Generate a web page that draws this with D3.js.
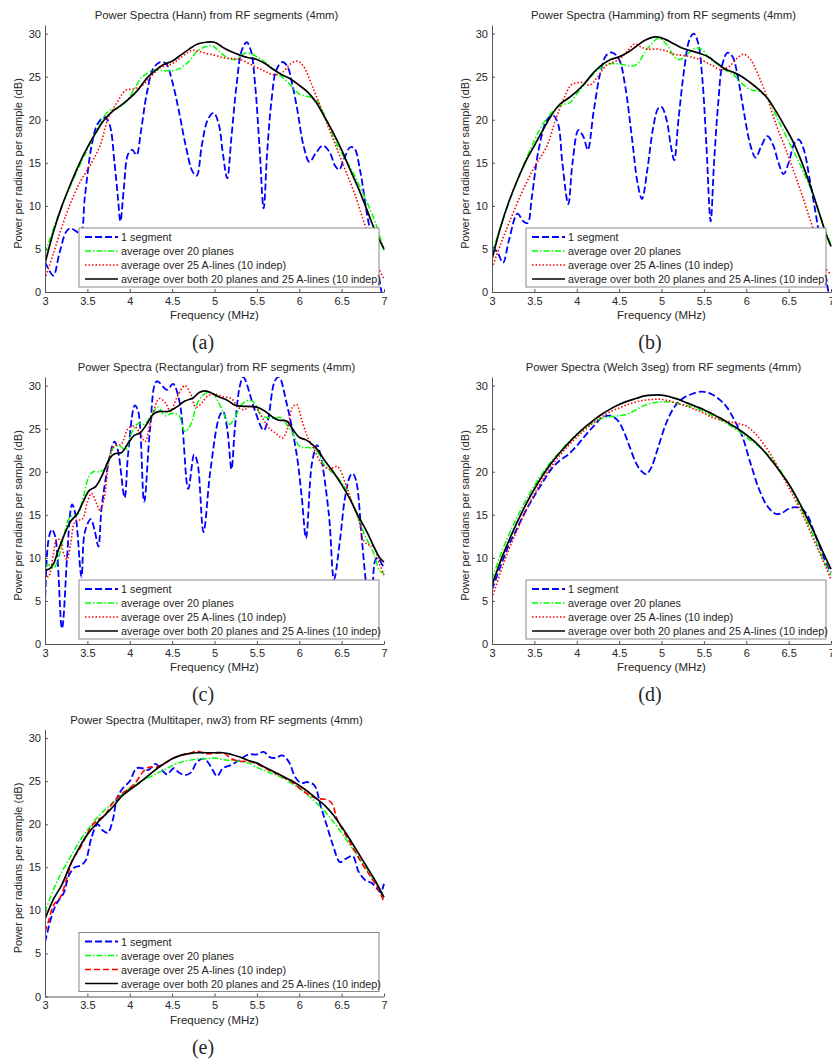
<!DOCTYPE html>
<html>
<head>
<meta charset="utf-8">
<script src="https://cdn.jsdelivr.net/npm/d3@7"></script>
<style>
  body { margin: 0; background: #fff; }
  text { font-family: "Liberation Sans", Arial, sans-serif; fill: #262626; }
</style>
</head>
<body>
<script>
const canvasWidth = 832,
  canvasHeight = 1059;

const freqTicks = [3, 3.5, 4, 4.5, 5, 5.5, 6, 6.5, 7];
const powerTicks = [0, 5, 10, 15, 20, 25, 30];
const seriesNames = [
  "1 segment",
  "average over 20 planes",
  "average over 25 A-lines (10 indep)",
  "average over both 20 planes and 25 A-lines (10 indep)"
];

// (a) Hann
const hannSeg = [[3,3.5],[3.05,2.5],[3.1,1.9],[3.17,4.5],[3.25,7],[3.3,7.4],[3.36,7.1],[3.42,6.8],[3.47,11],[3.55,17],[3.62,19.5],[3.7,20.3],[3.76,19.5],[3.82,15],[3.86,11],[3.89,8.2],[3.93,12],[3.98,16],[4.03,16.5],[4.08,15.9],[4.13,18.5],[4.2,23],[4.28,26],[4.36,26.7],[4.43,26.5],[4.5,24.5],[4.58,21],[4.66,17],[4.74,14],[4.79,13.5],[4.85,17],[4.92,20],[4.99,20.8],[5.05,19.5],[5.1,16],[5.15,13.2],[5.2,18],[5.26,24],[5.32,28],[5.38,29],[5.43,28],[5.48,24],[5.53,17],[5.58,9.7],[5.62,16],[5.67,22],[5.73,25.8],[5.8,26.7],[5.86,26.2],[5.92,24],[5.98,21],[6.05,17],[6.12,15.1],[6.2,16.2],[6.28,17],[6.36,16.2],[6.42,14.7],[6.47,14.2],[6.53,15.5],[6.6,16.8],[6.65,16.7],[6.72,14],[6.8,9],[6.88,5],[6.97,0]];
const hannPlanes = [[3,4.5],[3.2,10],[3.4,14.5],[3.6,18.5],[3.75,21],[3.85,21.3],[3.95,22],[4.05,23.5],[4.15,25],[4.3,25.8],[4.4,25.7],[4.5,25.7],[4.6,26],[4.7,26.8],[4.8,28],[4.9,28.5],[4.97,28.6],[5.05,28],[5.15,27.2],[5.25,27],[5.35,27.7],[5.42,27.7],[5.55,27],[5.7,25.8],[5.85,24.5],[6,23],[6.1,22.7],[6.2,22.3],[6.3,20.5],[6.45,17],[6.6,14.5],[6.75,11.5],[6.9,8],[7,4.8]];
const hannLines = [[3,1.5],[3.1,4.5],[3.25,9],[3.4,12.5],[3.55,15],[3.65,17],[3.75,20.3],[3.85,22],[3.95,23.4],[4.05,23.6],[4.15,24],[4.25,25],[4.35,26],[4.5,26.5],[4.6,27.2],[4.72,28],[4.8,28],[4.9,27.7],[5,27.5],[5.1,27.2],[5.2,27.1],[5.3,27],[5.45,26.3],[5.6,25.6],[5.7,25.2],[5.8,25.5],[5.9,26.5],[5.98,26.8],[6.05,26.2],[6.15,24],[6.25,21.5],[6.35,19],[6.45,16.5],[6.55,14],[6.65,11.5],[6.75,8.5],[6.85,5.5],[6.93,3],[7,1.5]];
const hannBoth = [[3,3.3],[3.1,7],[3.2,10],[3.3,12.5],[3.4,14.8],[3.5,16.8],[3.6,18.5],[3.7,20],[3.8,21],[3.9,21.7],[4,22.5],[4.1,23.5],[4.2,24.8],[4.3,25.7],[4.4,26.4],[4.5,26.8],[4.6,27.5],[4.7,28.2],[4.8,28.8],[4.9,29],[5,29],[5.1,28.4],[5.2,27.9],[5.3,27.5],[5.4,27.2],[5.5,27],[5.6,26.5],[5.7,25.8],[5.8,25.2],[5.9,24.7],[6,24],[6.1,23.2],[6.2,22],[6.3,20.3],[6.4,18.5],[6.5,16.5],[6.6,14.2],[6.7,12],[6.8,9.5],[6.9,7],[7,5]];

// (b) Hamming
const hammSeg = [[3,5.3],[3.07,4.5],[3.13,3.4],[3.2,6],[3.3,9.1],[3.37,8.2],[3.42,8],[3.47,11],[3.55,16.5],[3.65,20],[3.72,20.5],[3.78,19.5],[3.83,15],[3.9,10.2],[3.95,15],[4.02,18.8],[4.08,18],[4.13,16.5],[4.2,21],[4.28,25.5],[4.35,27.5],[4.42,27.8],[4.5,27],[4.57,24],[4.65,18],[4.72,12.5],[4.77,10.8],[4.83,14],[4.9,19],[4.96,21.3],[5,21.5],[5.06,20],[5.11,17],[5.15,15.3],[5.2,20],[5.27,26],[5.33,29.3],[5.38,30],[5.43,29],[5.48,25],[5.53,17],[5.58,8.2],[5.62,15],[5.67,22],[5.72,26.5],[5.78,27.8],[5.84,27.3],[5.9,25],[5.97,21],[6.05,17],[6.11,15.6],[6.18,17],[6.25,18.1],[6.32,17],[6.38,15],[6.44,13.7],[6.5,15],[6.57,17.3],[6.62,17.7],[6.68,16.5],[6.75,13],[6.83,8.5],[6.9,4],[6.97,0]];
const hammPlanes = [[3,4.5],[3.15,9],[3.3,13],[3.45,16.5],[3.6,19.5],[3.72,21],[3.82,21.7],[3.92,22],[4,23],[4.1,24.2],[4.25,25.8],[4.4,26.5],[4.55,26.4],[4.65,26.2],[4.72,26.5],[4.8,27.8],[4.88,28.8],[4.95,29.4],[5,29.3],[5.08,28.5],[5.15,27.3],[5.22,27],[5.3,27.6],[5.4,28.3],[5.47,28.2],[5.55,27.3],[5.65,26.5],[5.75,25.8],[5.85,25.2],[5.95,24.2],[6.05,23.5],[6.15,23.3],[6.25,22.5],[6.35,20.5],[6.5,17.5],[6.65,14.5],[6.8,11],[6.92,7.5],[7,5.5]];
const hammLines = [[3,2.8],[3.1,5.5],[3.2,8],[3.35,11.5],[3.5,14.5],[3.65,17],[3.75,20],[3.85,22.5],[3.93,24],[4,24.3],[4.08,24.3],[4.15,24],[4.25,25],[4.35,26.3],[4.5,27],[4.6,28],[4.68,28.8],[4.75,28.5],[4.82,28.2],[4.95,28.2],[5.05,28],[5.15,27.6],[5.3,27.4],[5.45,27],[5.6,26.3],[5.7,25.8],[5.8,26.2],[5.9,27.2],[5.97,27.6],[6.05,27],[6.15,25],[6.25,22.5],[6.35,19.5],[6.45,17],[6.55,14.3],[6.65,11.5],[6.75,8.5],[6.85,5.5],[6.92,3],[7,2]];
const hammBoth = [[3,3.8],[3.1,7.5],[3.2,10.5],[3.3,13],[3.4,15.2],[3.5,17],[3.6,18.8],[3.7,20.5],[3.8,21.8],[3.9,22.5],[4,23.3],[4.1,24.3],[4.2,25.5],[4.3,26.4],[4.4,27],[4.5,27.3],[4.6,27.8],[4.7,28.5],[4.8,29.2],[4.9,29.6],[4.97,29.6],[5.05,29.3],[5.15,28.8],[5.25,28.3],[5.35,28],[5.45,27.7],[5.55,27.3],[5.65,26.6],[5.75,25.9],[5.85,25.5],[5.95,25],[6.05,24.3],[6.15,23.5],[6.25,22.5],[6.35,21],[6.45,19.3],[6.55,17.5],[6.65,15.2],[6.75,12.5],[6.85,9.5],[6.95,6.5],[7,5.3]];

// (c) Rectangular
const rectSeg = [[3,4.3],[3.04,12],[3.08,13.3],[3.12,12.5],[3.2,1.8],[3.26,10],[3.3,15.4],[3.32,16.2],[3.36,15],[3.43,7.8],[3.47,13],[3.54,14.5],[3.59,13],[3.63,11.3],[3.67,16],[3.78,22.5],[3.82,23.5],[3.86,22.5],[3.94,17],[3.98,22],[4.06,27.7],[4.1,27],[4.17,16.5],[4.24,25],[4.32,30.5],[4.44,29.5],[4.51,30.2],[4.59,28],[4.69,18],[4.76,22],[4.8,21],[4.87,13],[4.95,20],[5.06,26.5],[5.1,27],[5.15,25],[5.2,20.3],[5.24,25],[5.3,30],[5.34,31],[5.48,27],[5.58,24.8],[5.63,26],[5.71,30.5],[5.76,31],[5.85,28],[5.97,22],[6.03,17],[6.08,12.3],[6.15,21],[6.21,23.1],[6.25,22],[6.35,15],[6.41,7.5],[6.48,12],[6.54,17],[6.6,19.5],[6.63,19.8],[6.67,19],[6.74,12],[6.8,6],[6.85,3],[6.89,9.5],[6.92,10],[6.99,9]];
const rectPlanes = [[3,9],[3.04,9.2],[3.1,8.8],[3.16,10],[3.22,12.5],[3.3,14.8],[3.38,15],[3.45,17],[3.52,19.5],[3.57,20],[3.65,20],[3.72,20.5],[3.8,22.7],[3.88,23],[3.95,22.5],[4.02,24.5],[4.1,25.6],[4.17,25.5],[4.25,26.5],[4.33,27.5],[4.42,26.5],[4.5,26.8],[4.58,26.5],[4.65,24.7],[4.72,25.5],[4.8,28],[4.88,29],[4.97,29.2],[5.05,28],[5.12,26.5],[5.18,25.5],[5.25,26.5],[5.32,27.8],[5.4,28.3],[5.47,28],[5.55,26.5],[5.62,26.3],[5.7,26.2],[5.78,26.3],[5.85,25.5],[5.92,24.5],[6,23],[6.05,22.8],[6.12,22.8],[6.2,22.5],[6.28,21],[6.38,20],[6.48,19],[6.55,18],[6.62,16.5],[6.7,14.5],[6.78,12.5],[6.88,10.5],[6.95,8.5],[7,8.2]];
const rectLines = [[3,8.2],[3.04,7.8],[3.1,10.5],[3.14,12.2],[3.18,12],[3.22,10.5],[3.26,9.8],[3.3,11.5],[3.36,14.3],[3.44,14.5],[3.5,16.5],[3.55,17.5],[3.6,16.5],[3.65,15.5],[3.7,17],[3.76,21.5],[3.82,23],[3.9,23.2],[3.98,25],[4.05,25.3],[4.12,24.5],[4.18,23.5],[4.25,26],[4.35,28.5],[4.42,28],[4.48,27],[4.55,28.5],[4.65,30],[4.72,29],[4.78,27.5],[4.85,28],[4.92,28.8],[5,29],[5.1,28.7],[5.2,28.5],[5.28,27.5],[5.35,27.2],[5.42,27.6],[5.5,27.3],[5.58,26],[5.65,25],[5.72,24.5],[5.8,23.9],[5.86,25],[5.92,27.5],[5.97,27.8],[6.03,26],[6.1,24],[6.18,22.5],[6.26,21],[6.35,20.3],[6.45,20.6],[6.55,18.5],[6.62,16.5],[6.7,14.5],[6.76,12],[6.82,11.5],[6.88,11.3],[6.94,9.5],[7,8]];
const rectBoth = [[3,8.6],[3.05,8.7],[3.1,9.3],[3.15,10.7],[3.22,12.5],[3.3,14.2],[3.38,15.1],[3.45,16.5],[3.52,17.8],[3.6,18.3],[3.68,19.7],[3.76,21.5],[3.82,22.1],[3.9,22.2],[3.98,23.3],[4.05,24.2],[4.12,24.5],[4.2,25.5],[4.28,26.7],[4.35,27],[4.45,27],[4.55,27.5],[4.65,28.2],[4.75,28.6],[4.82,29.2],[4.88,29.4],[4.95,29.2],[5.05,28.7],[5.15,28.3],[5.25,27.7],[5.35,27.6],[5.5,27.5],[5.6,27],[5.68,26.4],[5.75,26],[5.85,25.9],[5.92,25],[6,24],[6.08,23.7],[6.15,23.2],[6.22,22.5],[6.3,21.3],[6.4,20],[6.5,18.5],[6.6,16.8],[6.7,14.8],[6.8,13],[6.88,11.3],[6.95,10],[7,9.5]];

// (d) Welch 3seg
const welchSeg = [[3,6.3],[3.1,9],[3.2,11.5],[3.3,13.5],[3.4,15.5],[3.5,17.2],[3.6,18.8],[3.7,20.3],[3.8,21.3],[3.9,22],[4,23],[4.1,24.2],[4.2,25.3],[4.3,26.3],[4.4,26.5],[4.48,26],[4.55,24.8],[4.62,23],[4.7,21],[4.76,20.1],[4.82,19.7],[4.88,20.5],[4.95,22.5],[5.05,25.5],[5.15,27.5],[5.25,28.5],[5.35,29],[5.47,29.3],[5.57,29.1],[5.67,28.5],[5.77,27.5],[5.87,25.8],[5.95,24.2],[6.05,21],[6.15,18],[6.25,16],[6.35,15.1],[6.42,15.2],[6.5,15.7],[6.58,15.9],[6.65,15.7],[6.72,15],[6.8,13],[6.88,11],[6.95,9.2],[7,8.3]];
const welchPlanes = [[3,7.5],[3.1,10.3],[3.2,12.7],[3.3,14.8],[3.4,16.7],[3.5,18.4],[3.6,19.9],[3.7,21.2],[3.8,22.3],[3.9,23.4],[4,24.3],[4.1,25.1],[4.2,25.8],[4.3,26.2],[4.4,26.4],[4.5,26.5],[4.6,26.7],[4.7,27.2],[4.8,27.7],[4.9,28],[5,28.1],[5.1,28.1],[5.2,27.9],[5.3,27.7],[5.4,27.4],[5.5,27],[5.6,26.5],[5.7,26],[5.8,25.4],[5.9,24.8],[6,24],[6.1,23.3],[6.2,22.5],[6.3,21.5],[6.4,20.2],[6.5,18.6],[6.6,16.7],[6.7,14.6],[6.8,12.4],[6.9,10],[7,8]];
const welchLines = [[3,5.3],[3.1,8.3],[3.2,11],[3.3,13.3],[3.4,15.5],[3.5,17.4],[3.6,19.1],[3.7,20.6],[3.8,21.9],[3.9,23],[4,24],[4.1,24.9],[4.2,25.7],[4.3,26.4],[4.4,27],[4.5,27.4],[4.6,27.8],[4.7,28.1],[4.8,28.3],[4.9,28.4],[5,28.4],[5.1,28.2],[5.2,27.9],[5.3,27.6],[5.4,27.2],[5.5,26.8],[5.6,26.3],[5.7,26],[5.8,25.8],[5.9,25.6],[6,25.3],[6.1,24.5],[6.2,23.3],[6.3,21.8],[6.4,20],[6.5,18.2],[6.6,16.3],[6.7,14.3],[6.8,12],[6.9,9.8],[7,7.5]];
const welchBoth = [[3,6.8],[3.1,9.6],[3.2,12],[3.3,14.2],[3.4,16.2],[3.5,18],[3.6,19.6],[3.7,21],[3.8,22.2],[3.9,23.3],[4,24.3],[4.1,25.2],[4.2,26],[4.3,26.7],[4.4,27.3],[4.5,27.8],[4.6,28.2],[4.7,28.5],[4.8,28.8],[4.9,28.9],[5,28.9],[5.1,28.7],[5.2,28.4],[5.3,28],[5.4,27.6],[5.5,27.2],[5.6,26.7],[5.7,26.2],[5.8,25.6],[5.9,25],[6,24.3],[6.1,23.5],[6.2,22.5],[6.3,21.3],[6.4,20],[6.5,18.6],[6.6,16.9],[6.7,15],[6.8,13],[6.9,10.8],[7,8.7]];

// (e) Multitaper nw3
const mtSeg = [[3,6.3],[3.05,8.3],[3.1,10],[3.15,11],[3.22,12],[3.28,14],[3.35,15],[3.42,15.2],[3.48,15.8],[3.55,18.5],[3.62,20],[3.68,19.3],[3.74,19],[3.8,20.5],[3.85,23],[3.92,24.2],[4,25],[4.08,26.5],[4.15,26.5],[4.22,26.3],[4.3,27],[4.38,26.3],[4.44,25.8],[4.52,26.5],[4.58,26],[4.65,25.7],[4.72,26],[4.8,27.3],[4.88,27.6],[4.95,26.8],[5.03,25.6],[5.1,26.5],[5.2,26.9],[5.3,27.5],[5.4,28.1],[5.5,28.1],[5.58,28.4],[5.65,27.8],[5.72,27.7],[5.8,28],[5.88,27.2],[5.95,25.5],[6.02,24.8],[6.1,24.9],[6.18,24.5],[6.25,22.2],[6.32,20],[6.4,17.5],[6.48,15.6],[6.55,16],[6.63,16.3],[6.7,14.5],[6.78,13.5],[6.85,13.2],[6.92,12.5],[6.96,12.1],[7,13.1]];
const mtPlanes = [[3,9.8],[3.1,12.4],[3.2,14.5],[3.3,16.2],[3.4,17.9],[3.5,19.3],[3.6,20.6],[3.7,21.6],[3.8,22.5],[3.9,23.4],[4,24.2],[4.1,24.8],[4.2,25.3],[4.3,25.8],[4.4,26.3],[4.5,26.8],[4.6,27.2],[4.7,27.4],[4.8,27.6],[4.9,27.6],[5,27.7],[5.1,27.5],[5.2,27.4],[5.3,27.3],[5.4,27.1],[5.5,26.6],[5.6,26.2],[5.7,25.8],[5.8,25.4],[5.9,24.8],[6,24.2],[6.1,23.4],[6.2,22.5],[6.3,21.5],[6.4,20.3],[6.5,19],[6.6,17.6],[6.7,16.1],[6.8,14.8],[6.9,13.2],[7,11.8]];
const mtLines = [[3,7.5],[3.05,9],[3.1,10.6],[3.18,11.5],[3.25,13.5],[3.33,16],[3.4,17],[3.48,18.5],[3.55,19.8],[3.62,20.5],[3.7,21],[3.8,22.5],[3.9,23.5],[4,24.2],[4.08,25],[4.15,26],[4.22,26.6],[4.3,26.6],[4.4,27],[4.5,27.6],[4.6,28],[4.7,28.2],[4.8,28.5],[4.88,28.2],[4.97,28.2],[5.05,28.3],[5.12,28.2],[5.2,27.6],[5.3,27.3],[5.4,27.3],[5.5,27],[5.6,26.5],[5.7,26],[5.8,25.5],[5.9,25],[6,24.2],[6.1,23.5],[6.2,23],[6.3,22.9],[6.38,22.5],[6.45,20.5],[6.55,18.7],[6.65,17],[6.75,15.3],[6.85,13.8],[6.93,12.5],[7,11]];
const mtBoth = [[3,9],[3.1,11.3],[3.2,13],[3.3,15.3],[3.4,17.2],[3.5,18.8],[3.6,20],[3.7,21],[3.8,22],[3.9,23.2],[4,24],[4.1,24.7],[4.2,25.5],[4.3,26.3],[4.4,27],[4.5,27.6],[4.6,28],[4.7,28.2],[4.8,28.3],[4.9,28.3],[5,28.3],[5.1,28.3],[5.2,28.1],[5.3,27.8],[5.4,27.4],[5.5,27.1],[5.6,26.6],[5.7,26.1],[5.8,25.6],[5.9,25.1],[6,24.5],[6.1,23.8],[6.2,23],[6.3,22.2],[6.4,21.1],[6.5,19.7],[6.6,18.2],[6.7,16.6],[6.8,15],[6.9,13.4],[7,11.5]];

const plotWidth = 339,
  plotHeight = 267;

const panels = [
  { title: "Power Spectra (Hann) from RF segments (4mm)", tag: "(a)", left: 45, top: 25, data: [hannSeg, hannPlanes, hannLines, hannBoth] },
  { title: "Power Spectra (Hamming) from RF segments (4mm)", tag: "(b)", left: 492, top: 25, data: [hammSeg, hammPlanes, hammLines, hammBoth] },
  { title: "Power Spectra (Rectangular) from RF segments (4mm)", tag: "(c)", left: 45, top: 377, data: [rectSeg, rectPlanes, rectLines, rectBoth] },
  { title: "Power Spectra (Welch 3seg) from RF segments (4mm)", tag: "(d)", left: 492, top: 377, data: [welchSeg, welchPlanes, welchLines, welchBoth] },
  { title: "Power Spectra (Multitaper, nw3) from RF segments (4mm)", tag: "(e)", left: 45, top: 729.5, data: [mtSeg, mtPlanes, mtLines, mtBoth], redDashed: true }
];

function lineStyles(redDashed) {
  return [
    { color: "#0000ff", dash: "7,3", width: 1.8 },
    { color: "#00ff00", dash: "6,2,1.5,2", width: 1.5 },
    { color: "#ff0000", dash: redDashed ? "6,3" : "1.5,2", width: 1.6 },
    { color: "#000000", dash: null, width: 1.7 }
  ];
}

var svg = d3
  .select("body")
  .append("svg")
  .attr("width", canvasWidth)
  .attr("height", canvasHeight);

const x = d3.scaleLinear().domain([3, 7]).range([0, plotWidth]);
const y = d3.scaleLinear().domain([0, 31]).range([plotHeight, 0]);

const line = d3
  .line()
  .x(d => x(d[0]))
  .y(d => y(d[1]))
  .curve(d3.curveCatmullRom.alpha(0.5));

panels.forEach((p, pi) => {
  const g = svg.append("g").attr("transform", `translate(${p.left},${p.top})`);
  const styles = lineStyles(p.redDashed);

  g.append("clipPath")
    .attr("id", "clip" + pi)
    .append("rect")
    .attr("width", plotWidth + 1)
    .attr("height", plotHeight);

  // curves
  const curves = g.append("g").attr("clip-path", `url(#clip${pi})`);
  p.data.forEach((series, si) => {
    curves
      .append("path")
      .attr("d", line(series))
      .attr("fill", "none")
      .attr("stroke", styles[si].color)
      .attr("stroke-width", styles[si].width)
      .attr("stroke-dasharray", styles[si].dash);
  });

  // axes (MATLAB style, inward ticks)
  const xAxis = d3.axisBottom(x).tickValues(freqTicks).tickSizeInner(-3).tickSizeOuter(0).tickPadding(6).tickFormat(d3.format("~g"));
  const yAxis = d3.axisLeft(y).tickValues(powerTicks).tickSizeInner(-3).tickSizeOuter(0).tickPadding(6);

  const gx = g.append("g").attr("transform", `translate(0,${plotHeight})`).call(xAxis);
  const gy = g.append("g").call(yAxis);
  [gx, gy].forEach(a => {
    a.select(".domain").attr("stroke", "#555");
    a.selectAll(".tick line").attr("stroke", "#555");
    a.selectAll(".tick text").style("font-size", "11px").attr("fill", "#262626");
  });
  gx.selectAll(".tick text").attr("dy", "0.71em").attr("y", 5);
  gy.selectAll(".tick text").attr("x", -4);

  // legend
  const lg = g.append("g").attr("transform", `translate(34,${plotHeight - 64})`);
  lg.append("rect")
    .attr("width", 300)
    .attr("height", 59)
    .attr("fill", "#fff")
    .attr("stroke", "#888")
    .attr("stroke-width", 1);
  seriesNames.forEach((name, si) => {
    const ly = 9 + si * 14;
    lg.append("line")
      .attr("x1", 6)
      .attr("x2", 39)
      .attr("y1", ly)
      .attr("y2", ly)
      .attr("stroke", styles[si].color)
      .attr("stroke-width", styles[si].width)
      .attr("stroke-dasharray", styles[si].dash);
    lg.append("text")
      .attr("x", 42)
      .attr("y", ly + 4)
      .style("font-size", "10.8px")
      .text(name);
  });

  // titles and labels
  g.append("text")
    .attr("x", plotWidth / 2 + 2)
    .attr("y", -6)
    .attr("text-anchor", "middle")
    .style("font-size", "11.3px")
    .text(p.title);

  g.append("text")
    .attr("x", plotWidth / 2)
    .attr("y", plotHeight + 27)
    .attr("text-anchor", "middle")
    .style("font-size", "11.5px")
    .text("Frequency (MHz)");

  g.append("text")
    .attr("transform", `translate(-23,${plotHeight / 2 + 5}) rotate(-90)`)
    .attr("text-anchor", "middle")
    .style("font-size", "11px")
    .text("Power per radians per sample (dB)");

  g.append("text")
    .attr("x", 158)
    .attr("y", plotHeight + 57)
    .attr("text-anchor", "middle")
    .style("font-family", "'Liberation Serif', 'Times New Roman', serif")
    .style("font-size", "20px")
    .attr("fill", "#000")
    .text(p.tag);
});
</script>
</body>
</html>
